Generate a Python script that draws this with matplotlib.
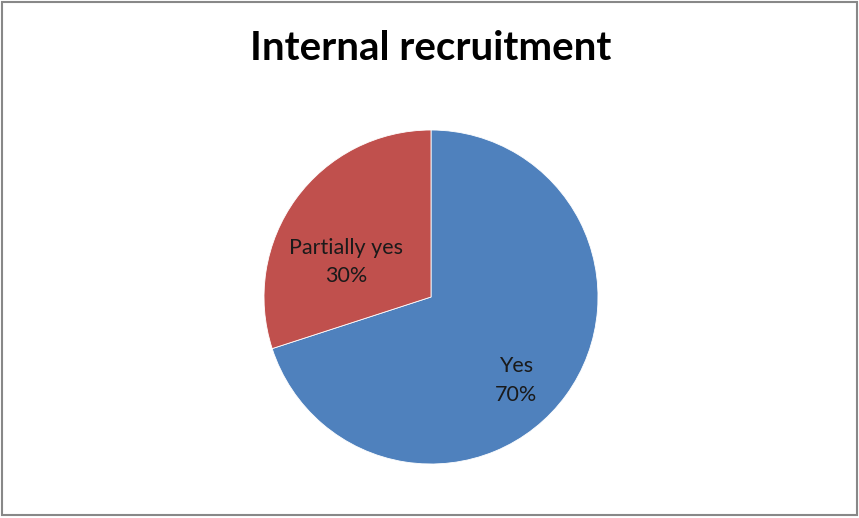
import matplotlib
matplotlib.use('Agg')
import matplotlib.pyplot as plt
from matplotlib.patches import Rectangle

plt.rcParams['font.family'] = ['Lato', 'DejaVu Sans']

title = "Internal recruitment"
labels = ["Yes", "Partially yes"]
shares = [70, 30]
colors = ["#4F81BD", "#C0504D"]

W, H = 859, 518
fig = plt.figure(figsize=(W / 100, H / 100), dpi=100)

# grey frame around the chart area
fig.patches.append(Rectangle((2 / W, 3 / H), (W - 4) / W, (H - 5) / H,
                             transform=fig.transFigure, fill=False,
                             edgecolor="#888888", linewidth=1.5))

cx, cy, r = 431, 297, 167
ax = fig.add_axes([(cx - r) / W, (H - cy - r) / H, 2 * r / W, 2 * r / H])
ax.pie(shares, colors=colors, startangle=90, counterclock=False,
       wedgeprops=dict(edgecolor="white", linewidth=0.6))
ax.set_xlim(-1, 1)
ax.set_ylim(-1, 1)

# slice labels, placed like the office chart does
label_pos = [(0.51, -0.50), (-0.51, 0.21)]
for name, val, (x, y) in zip(labels, shares, label_pos):
    ax.text(x, y, f"{name}\n{val}%", ha="center", va="center",
            fontsize=15.5, color="#1a1a1a", linespacing=1.55)

fig.text(431 / W, 1 - 48 / H, title, ha="center", va="center",
         fontsize=29, fontweight="bold", color="black")

fig.savefig("out.png", dpi=100)
